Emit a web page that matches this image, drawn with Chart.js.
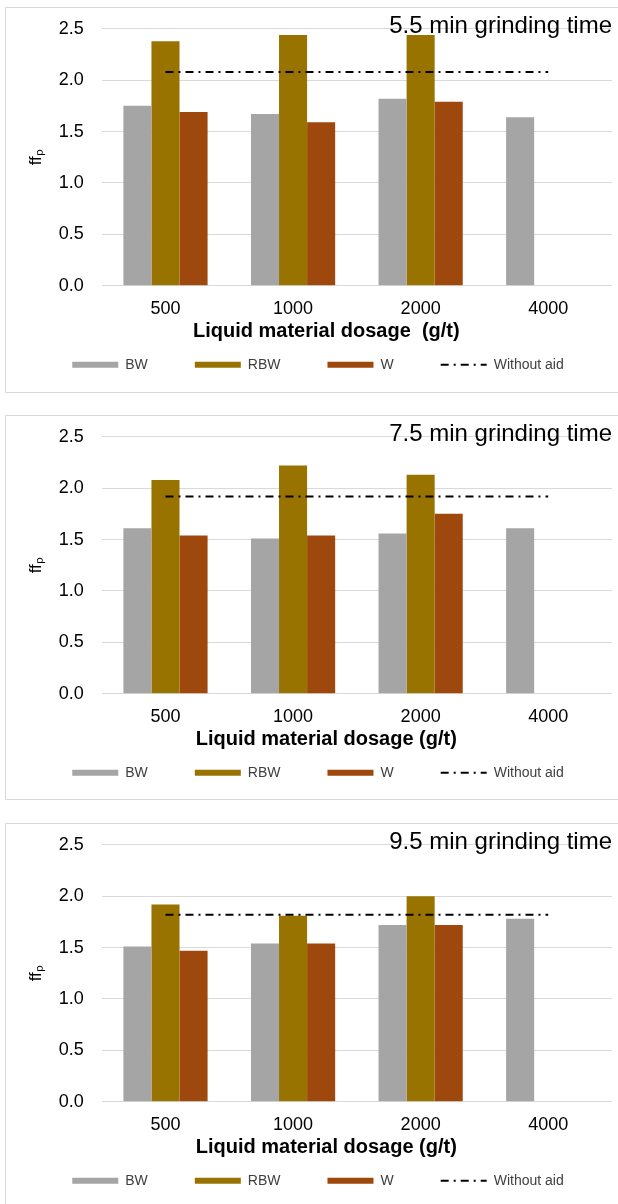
<!DOCTYPE html>
<html>
<head>
<meta charset="utf-8">
<script src="https://cdn.jsdelivr.net/npm/chart.js@4.4.1/dist/chart.umd.min.js"></script>
<style>
    html, body { margin: 0; padding: 0; background: #fff; overflow: hidden; }
    body { width: 618px; height: 1204px; position: relative; }
    .frame { position: absolute; left: 5px; width: 700px; border: 1px solid #d9d9d9; box-sizing: border-box; }
    canvas { position: absolute; left: 0; }
</style>
</head>
<body>
<div class="frame" style="top:7px;height:386px"></div>
<div class="frame" style="top:415px;height:385px"></div>
<div class="frame" style="top:823px;height:500px"></div>
<canvas id="c55" width="618" height="400" style="top:0px"></canvas>
<canvas id="c75" width="618" height="400" style="top:408px"></canvas>
<canvas id="c95" width="618" height="400" style="top:816px"></canvas>
<script>
var dosage = ['500', '1000', '2000', '4000'];
var yTicks = [0, 0.5, 1.0, 1.5, 2.0, 2.5];

// 5.5 min
var bw55 = [1.75, 1.67, 1.82, 1.64];
var rbw55 = [2.38, 2.44, 2.44, null];
var w55 = [1.69, 1.59, 1.79, null];
var noAid55 = [2.08, 2.08, 2.08, 2.08];

// 7.5 min
var bw75 = [1.61, 1.51, 1.56, 1.61];
var rbw75 = [2.08, 2.22, 2.13, null];
var w75 = [1.54, 1.54, 1.75, null];
var noAid75 = [1.92, 1.92, 1.92, 1.92];

// 9.5 min
var bw95 = [1.51, 1.54, 1.72, 1.78];
var rbw95 = [1.92, 1.81, 2.00, null];
var w95 = [1.47, 1.54, 1.72, null];
var noAid95 = [1.82, 1.82, 1.82, 1.82];

var FONT = "'Liberation Sans', Arial, sans-serif";
var dashStyle = [8, 5, 2, 5];
// trailing spaces push the centred axis title left, as in the original figure
var titlePad = '           ';

function makePanel(id, title, xTitle, bw, rbw, w, noAid) {
    var ctx = document.getElementById(id).getContext('2d');
    var data = {
        labels: dosage,
        datasets: [{
            label: 'BW',
            backgroundColor: '#A5A5A5',
            data: bw,
            order: 1
        }, {
            label: 'RBW',
            backgroundColor: '#997300',
            data: rbw,
            order: 1
        }, {
            label: 'W',
            backgroundColor: '#9E480E',
            data: w,
            order: 1
        }, {
            type: 'line',
            label: 'Without aid',
            data: noAid,
            borderColor: '#000',
            backgroundColor: '#000',
            borderWidth: 2,
            borderDash: dashStyle,
            pointRadius: 0,
            fill: false,
            order: 0
        }]
    };

    return new Chart(ctx, {
        type: 'bar',
        data: data,
        options: {
            responsive: false,
            animation: false,
            devicePixelRatio: 1,
            categoryPercentage: 0.66,
            barPercentage: 1.0,
            layout: { padding: { left: 24, right: 6, top: 0, bottom: 18.3 } },
            plugins: {
                tooltip: { enabled: false },
                title: {
                    display: true,
                    text: title,
                    align: 'end',
                    color: '#000',
                    font: { family: FONT, size: 24, weight: 'normal' },
                    padding: { top: 10.1, bottom: -11.6 }
                },
                legend: {
                    position: 'bottom',
                    labels: {
                        usePointStyle: true,
                        pointStyleWidth: 46,
                        boxHeight: 6,
                        padding: 47,
                        color: '#404040',
                        font: { family: FONT, size: 14 },
                        generateLabels: function (chart) {
                            var items = Chart.defaults.plugins.legend.labels.generateLabels(chart);
                            items.sort(function (a, b) { return a.datasetIndex - b.datasetIndex; });
                            _each(items, function (it) {
                                if (it.text === 'Without aid') {
                                    it.pointStyle = 'line';
                                    it.strokeStyle = '#000';
                                    it.lineWidth = 2;
                                    it.lineDash = dashStyle;
                                } else {
                                    it.pointStyle = 'rect';
                                    it.lineWidth = 0;
                                }
                            });
                            return items;
                        }
                    }
                }
            },
            scales: {
                x: {
                    grid: { display: false },
                    border: { display: false },
                    // mirror + negative padding: labels stay below the axis but are not clipped
                    ticks: { color: '#000', mirror: true, padding: -34.1, font: { family: FONT, size: 18 } },
                    title: {
                        display: true,
                        text: xTitle + titlePad,
                        color: '#000',
                        font: { family: FONT, size: 20, weight: 'bold' },
                        padding: { top: 0, bottom: -32.5 }
                    },
                    afterFit: function (scale) { scale.height = 25; }
                },
                y: {
                    min: 0,
                    max: 2.5,
                    grid: { color: '#d9d9d9', lineWidth: 1, drawTicks: false },
                    border: { display: false },
                    afterBuildTicks: function (scale) {
                        scale.ticks = yTicks.map(function (v) { return { value: v }; });
                    },
                    ticks: {
                        color: '#000',
                        padding: 18,
                        font: { family: FONT, size: 18 },
                        callback: function (v) { return Number(v).toFixed(1); }
                    },
                    title: {
                        display: true,
                        text: 'ffₚ',
                        color: '#000',
                        font: { family: FONT, size: 17 },
                        padding: { top: 2, bottom: 0 }
                    },
                    afterFit: function (scale) { scale.width = 77.7; }
                }
            }
        }
    });
}

function _each(arr, fn) {
    for (var i = 0; i < arr.length; i++) fn(arr[i]);
}

makePanel('c55', '5.5 min grinding time', 'Liquid material dosage  (g/t)', bw55, rbw55, w55, noAid55);
makePanel('c75', '7.5 min grinding time', 'Liquid material dosage (g/t)', bw75, rbw75, w75, noAid75);
makePanel('c95', '9.5 min grinding time', 'Liquid material dosage (g/t)', bw95, rbw95, w95, noAid95);
</script>
</body>
</html>
